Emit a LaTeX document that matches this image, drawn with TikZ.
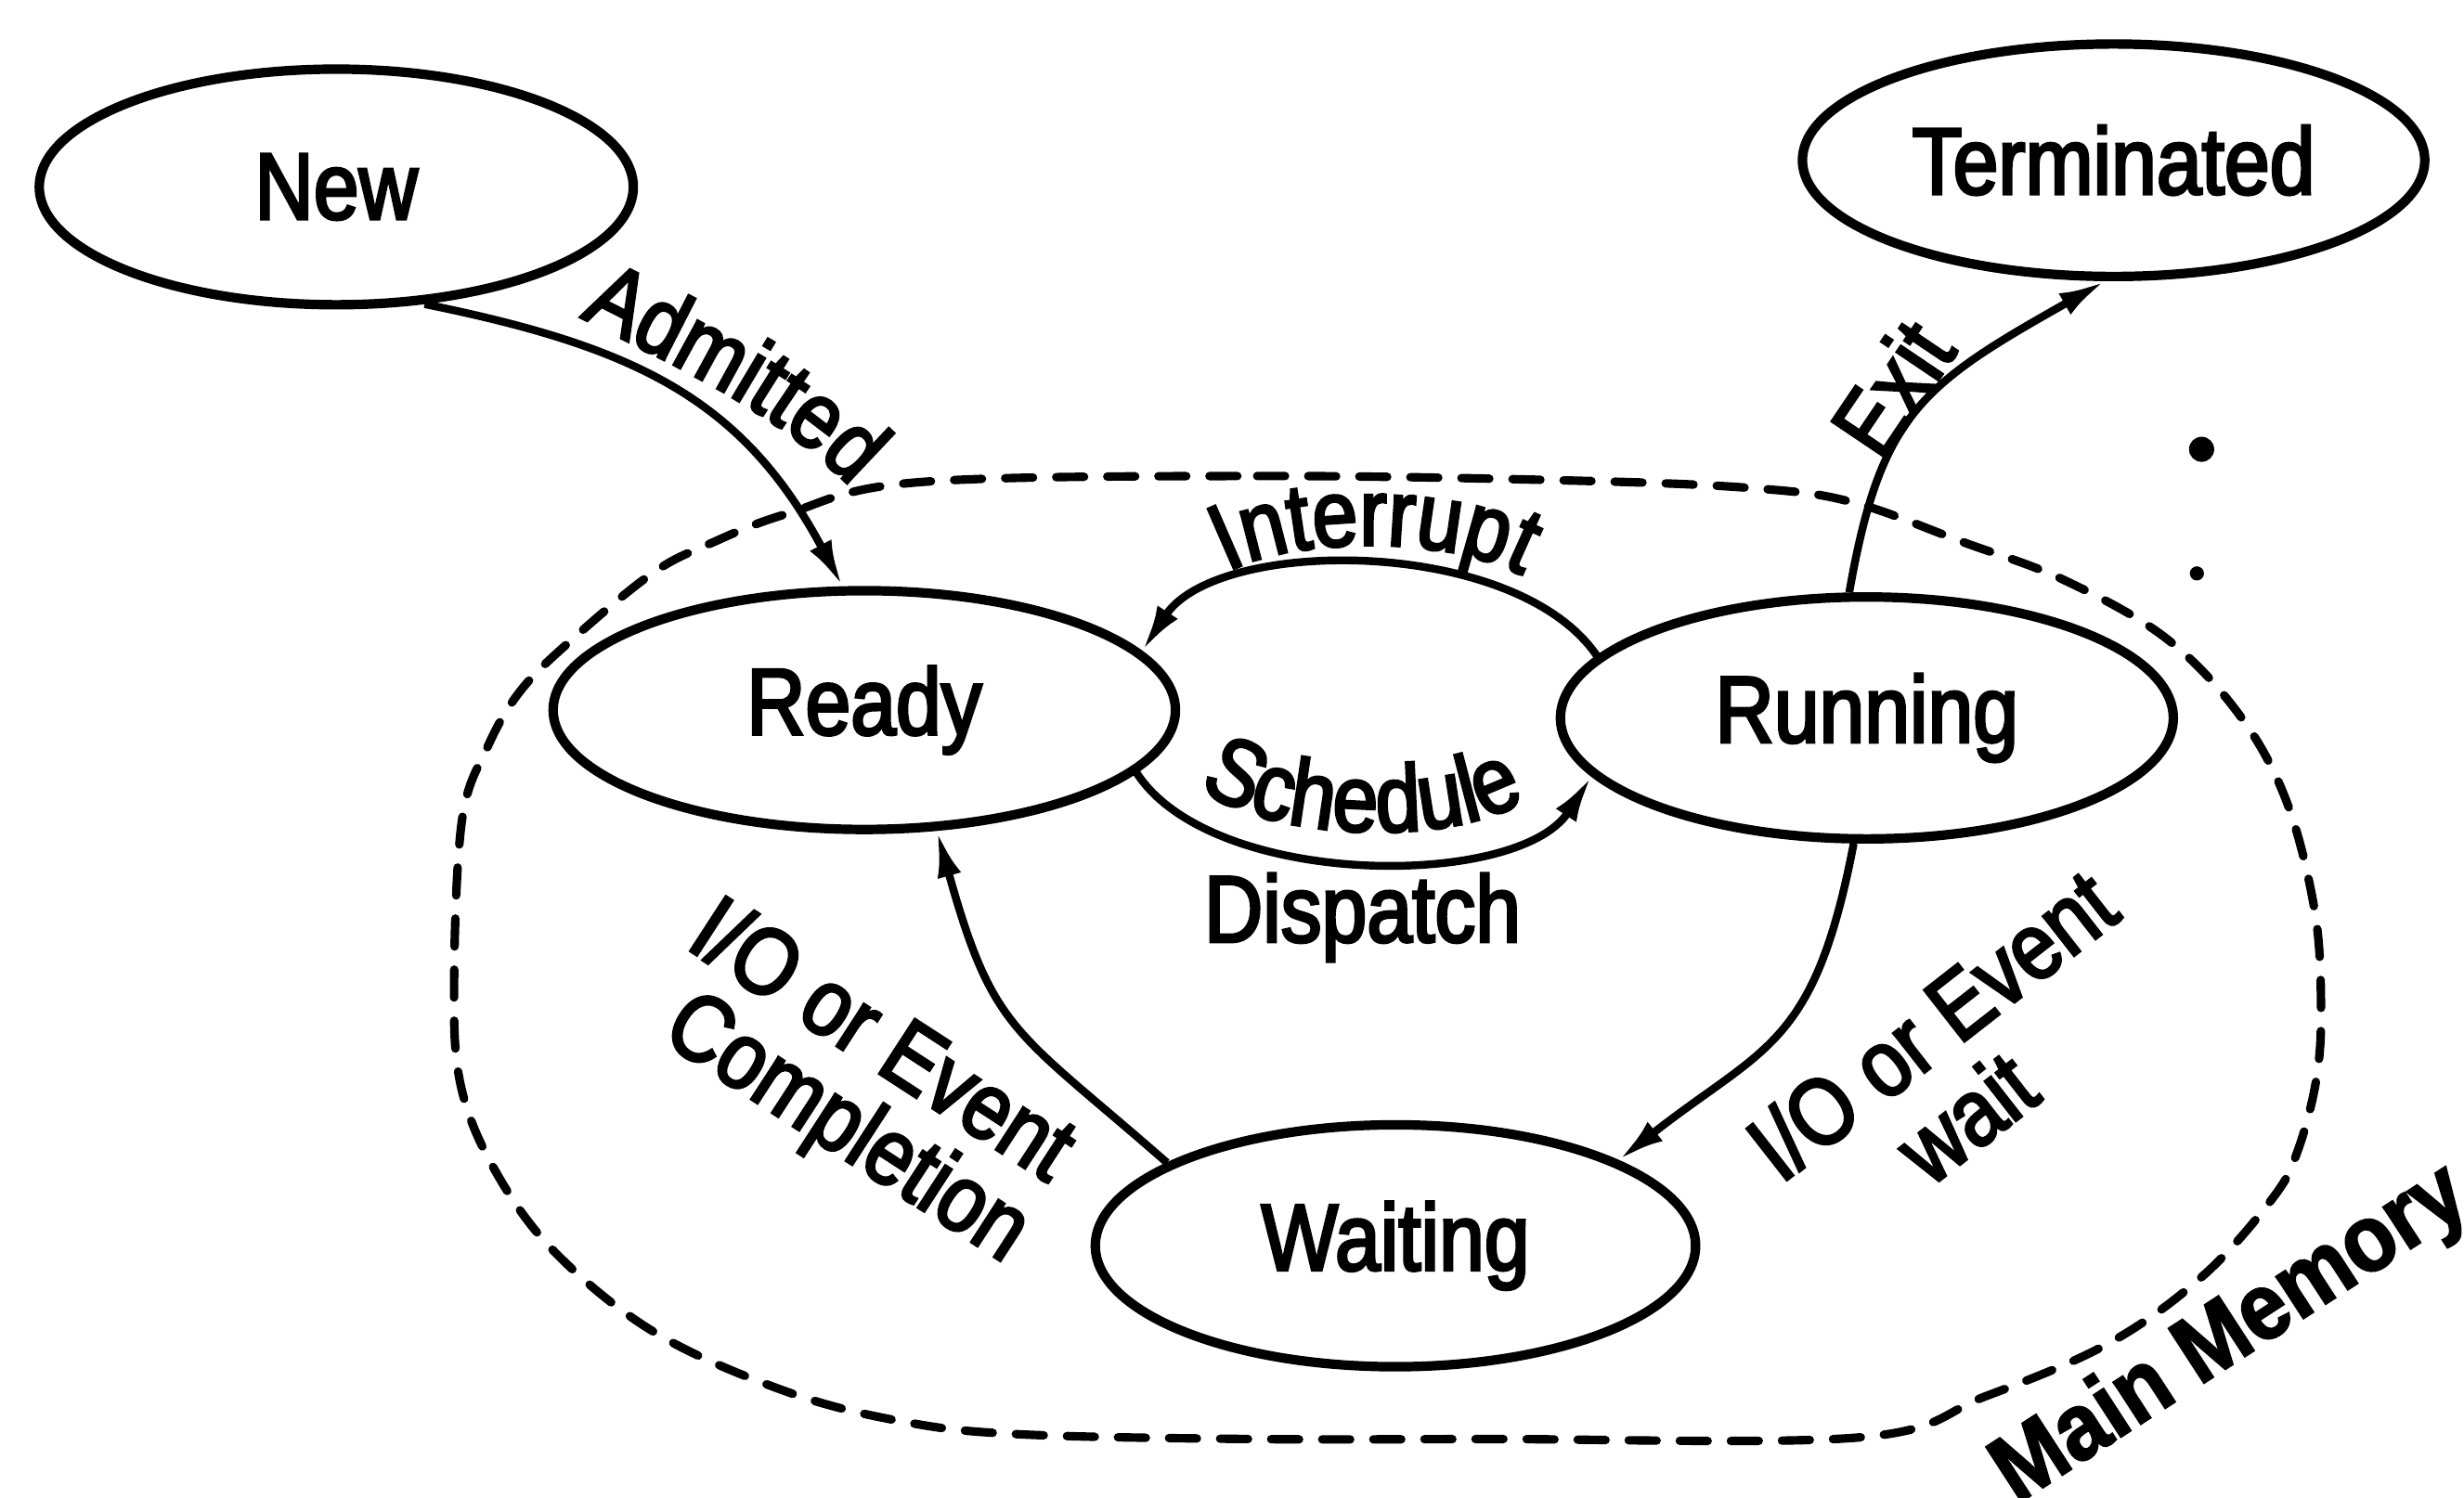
\documentclass[tikz,border=0pt]{standalone}
\usepackage{fontspec}
\setmainfont{Liberation Sans}[FakeStretch=0.86, FakeBold=3]
\newfontfamily\memfont{Liberation Sans}[FakeStretch=0.9, FakeBold=2]
\usetikzlibrary{shapes.geometric, arrows.meta, decorations.text}

% label size used for states and transitions
\newcommand\labfont{\fontsize{29}{31}\selectfont}
% drawing unit
\def\pxu{0.016926cm}

\begin{document}
\begin{tikzpicture}[x=0.016926cm, y=-0.016926cm,
  state/.style={ellipse, draw, line width=2.9pt, inner sep=0pt, font=\labfont},
  flow/.style={line width=2.4pt, -{Latex[length=0.5cm,width=0.26cm]}},
  lab/.style={font=\labfont, inner sep=0pt},
  boundary/.style={line width=2.6pt, dash pattern=on 0.3cm off 0.25cm, line cap=round}]

\useasboundingbox (0,0) rectangle (1568,953);
\fill[white] (0,0) rectangle (1568,953);
\clip (0,0) rectangle (1568,953);

% main-memory region
\draw[boundary] plot[smooth cycle, tension=0.6] coordinates {
  (584,307) (800,303) (1004,306) (1119,311) (1180,320) (1249,345)
  (1313,369) (1378,406) (1425,455) (1455,510) (1473,580) (1477,641)
  (1474,687) (1462,733) (1446,763) (1402,812) (1342,855) (1263,889)
  (1183,915) (945,916) (795,916) (649,913) (575,905) (501,886)
  (418,849) (354,798) (315,745) (293,690) (289,623) (294,522)
  (310,476) (331,440) (363,408) (415,365) (452,346) (501,327)};

% states
\node[state, minimum width=378*\pxu, minimum height=150*\pxu] (new) at (214,119) {New};
\node[state, minimum width=396*\pxu, minimum height=148*\pxu] (term) at (1345,102) {Terminated};
\node[state, minimum width=396*\pxu, minimum height=152*\pxu] (ready) at (550,452) {Ready};
\node[state, minimum width=390*\pxu, minimum height=154*\pxu] (run) at (1188,457) {Running};
\node[state, minimum width=382*\pxu, minimum height=154*\pxu] (wait) at (888,793) {Waiting};

% transitions
\draw[flow] (new.-53) .. controls +(133,27) and +(-64,-120) .. (ready.100);
\draw[flow] (run.98) .. controls +(20,-114) and +(-117,66) .. (term.-94);
\draw[flow] (run.167) .. controls +(-52,-76) and +(48,-73) .. (ready.12);
\draw[flow] (ready.-13) .. controls +(48,74) and +(-47,72) .. (run.192);
\draw[flow] (run.-96) .. controls +(-25,130) and +(93,-73) .. (wait.21);
\draw[flow] (wait.160) .. controls +(-97,-85) and +(36,129) .. (ready.-59);

% curved transition labels
\path[decorate, decoration={text along path, text={|\labfont|Admitted}, text align=center}]
  (360,197) .. controls (422,230) and (503,264) .. (548,318);
\path[decorate, decoration={text along path, text={|\labfont|Interrupt}, text align=center}]
  (772,370) .. controls (810,340) and (930,338) .. (978,372);
\path[decorate, decoration={text along path, text={|\labfont|Schedule}, text align=center}]
  (764,502) .. controls (805,534) and (920,540) .. (970,510);

% straight transition labels
\node[lab, rotate=56] (exitlab) at (1204,247) {Exit};
\node[lab] (displab) at (867,584) {Dispatch};
\node[lab, rotate=-33] (compa) at (563,660) {I/O or Event};
\node[lab, rotate=-33] (compb) at (538,720) {Completion};
\node[lab, rotate=38] (waita) at (1229,652) {I/O or Event};
\node[lab, rotate=38] (waitb) at (1251,711) {wait};

% region caption
\node[font=\memfont\bfseries\fontsize{29}{31}\selectfont, anchor=base west, rotate=33, inner sep=0pt]
  (memlab) at (1283,958) {Main Memory};

% specks
\fill (1401,286) circle[radius=8];
\fill (1398,365) circle[radius=4.5];
\end{tikzpicture}
\end{document}
